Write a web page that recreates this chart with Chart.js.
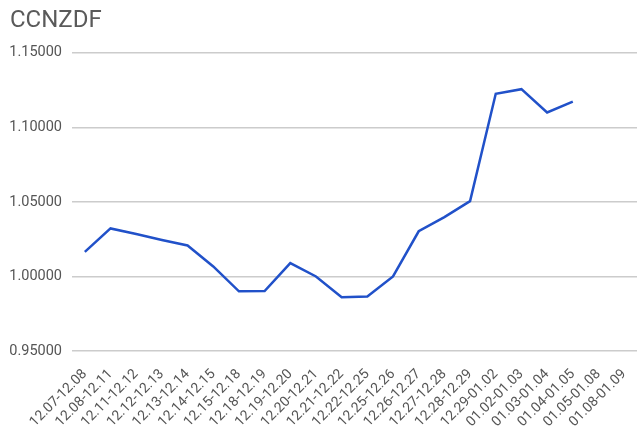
<!DOCTYPE html>
<html>
<head>
<meta charset="utf-8">
<script src="https://cdn.jsdelivr.net/npm/chart.js@4/dist/chart.umd.min.js"></script>
<style>
html,body{margin:0;padding:0;background:#fff;}
#wrap{width:640px;height:430px;}
</style>
</head>
<body>
<div id="wrap"><canvas id="c" width="640" height="430"></canvas></div>
<script>
const chartTitle = "CCNZDF";
const categories = ["12.07-12.08","12.08-12.11","12.11-12.12","12.12-12.13","12.13-12.14","12.14-12.15","12.15-12.18","12.18-12.19","12.19-12.20","12.20-12.21","12.21-12.22","12.22-12.25","12.25-12.26","12.26-12.27","12.27-12.28","12.28-12.29","12.29-01.02","01.02-01.03","01.03-01.04","01.04-01.05","01.05-01.08","01.08-01.09"];
const seriesValues = [1.0165,1.0322,1.0285,1.0245,1.0208,1.0067,0.9900,0.9902,1.0090,1.0000,0.9860,0.9866,1.0000,1.0303,1.0398,1.0505,1.1225,1.1256,1.1100,1.1172,null,null];
const yTicks = [0.95,1.00,1.05,1.10,1.15];

new Chart(document.getElementById('c'), {
  type: 'line',
  data: {
    labels: categories,
    datasets: [{
      data: seriesValues,
      borderColor: '#2151c9',
      borderWidth: 2.5,
      pointRadius: 0,
      tension: 0,
      spanGaps: false,
      fill: false
    }]
  },
  options: {
    responsive: false,
    animation: false,
    devicePixelRatio: 1,
    layout: { padding: { left: 10, right: 3, top: 0, bottom: 4 } },
    plugins: {
      legend: { display: false },
      tooltip: { enabled: false },
      title: {
        display: true,
        text: chartTitle,
        align: 'start',
        color: '#5a5a5a',
        font: { family: 'Roboto', size: 24, weight: 'normal' },
        padding: { top: 7, bottom: 17 }
      }
    },
    scales: {
      x: {
        offset: true,
        grid: { display: false },
        border: { display: false },
        afterFit: (s) => { s.paddingLeft = 0; s.paddingRight = 0; s.height = 75; },
        ticks: {
          color: '#555',
          font: { family: 'Roboto', size: 14 },
          minRotation: 45,
          maxRotation: 45,
          autoSkip: false,
          padding: 7
        }
      },
      y: {
        min: yTicks[0],
        max: yTicks[yTicks.length - 1],
        afterBuildTicks: (axis) => { axis.ticks = yTicks.map(v => ({ value: v })); },
        afterFit: (s) => { s.width = 62; },
        grid: { color: '#cccccc', lineWidth: 1.5, drawTicks: false },
        border: { display: false },
        ticks: {
          color: '#555',
          font: { family: 'Roboto', size: 14.5 },
          padding: 10,
          callback: (v) => Number(v).toFixed(5)
        }
      }
    }
  }
});
</script>
</body>
</html>
